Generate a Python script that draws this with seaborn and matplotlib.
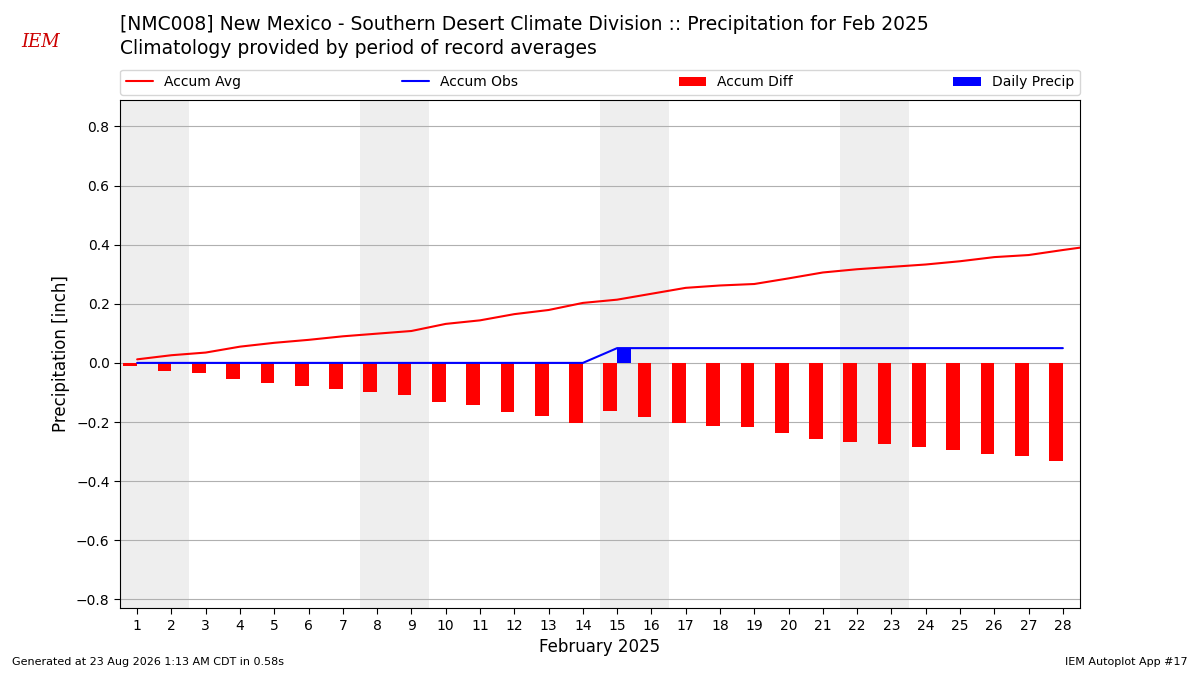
import numpy as np
import matplotlib
matplotlib.use("Agg")
import matplotlib.pyplot as plt
import seaborn as sns

days = list(range(1, 29))
accum_avg = [0.012, 0.026, 0.035, 0.055, 0.068, 0.078, 0.090, 0.099, 0.108, 0.132,
             0.144, 0.165, 0.179, 0.203, 0.214, 0.234, 0.254, 0.262, 0.267, 0.286,
             0.306, 0.317, 0.325, 0.333, 0.344, 0.358, 0.365, 0.382]
daily_precip = [0.0] * 14 + [0.05] + [0.0] * 13
accum_obs = list(np.cumsum(daily_precip))
accum_diff = [o - a for o, a in zip(accum_obs, accum_avg)]
weekends = [(0.5, 2.5), (7.5, 9.5), (14.5, 16.5), (21.5, 23.5)]

sns.set_style("white")
plt.rcParams.update({"text.color": "black", "axes.labelcolor": "black",
                     "xtick.color": "black", "ytick.color": "black"})
fig = plt.figure(figsize=(12, 6.75), dpi=100)
ax = fig.add_axes([0.1, 0.099, 0.8, 0.753])

for a, b in weekends:
    ax.axvspan(a, b, color="#eeeeee", zorder=0, lw=0)
ax.grid(axis="y", color="#b0b0b0", lw=0.8, zorder=1)
ax.set_axisbelow(True)

ax.plot(days + [28.5], accum_avg + [0.39], color="red", lw=1.5, label="Accum Avg", zorder=3)
ax.plot(days, accum_obs, color="blue", lw=1.5, label="Accum Obs", zorder=3)
ax.bar(days, accum_diff, width=-0.4, align="edge", color="red", lw=0, label="Accum Diff", zorder=2)
ax.bar(days, daily_precip, width=0.4, align="edge", color="blue", lw=0, label="Daily Precip", zorder=2)

ax.set_xlim(0.5, 28.5)
ax.set_ylim(-0.83, 0.89)
ax.set_xticks(days)
ax.set_yticks(np.arange(-0.8, 0.81, 0.2))
ax.set_yticklabels(["\u22120.8", "\u22120.6", "\u22120.4", "\u22120.2", "0.0", "0.2", "0.4", "0.6", "0.8"])
ax.tick_params(axis="both", labelsize=10, length=4, direction="out", bottom=True, left=True)
ax.set_xlabel("February 2025", fontsize=12)
ax.set_ylabel("Precipitation [inch]", fontsize=12)
for s in ax.spines.values():
    s.set_color("black")

ax.legend(loc="lower left", bbox_to_anchor=(0, 1.01, 1, 0.05), ncol=4, mode="expand",
          fontsize=10, frameon=True, borderaxespad=0)

fig.text(0.1, 0.964, "[NMC008] New Mexico - Southern Desert Climate Division :: Precipitation for Feb 2025",
         fontsize=13.5, va="center")
fig.text(0.1, 0.928, "Climatology provided by period of record averages", fontsize=13.5, va="center")
fig.text(0.018, 0.93, "IEM", fontsize=13, color="#cc0000", style="italic", family="serif")
fig.text(0.01, 0.015, "Generated at 23 Aug 2026 1:13 AM CDT in 0.58s", fontsize=8)
fig.text(0.99, 0.015, "IEM Autoplot App #17", fontsize=8, ha="right")

fig.savefig("out.png", dpi=100)
